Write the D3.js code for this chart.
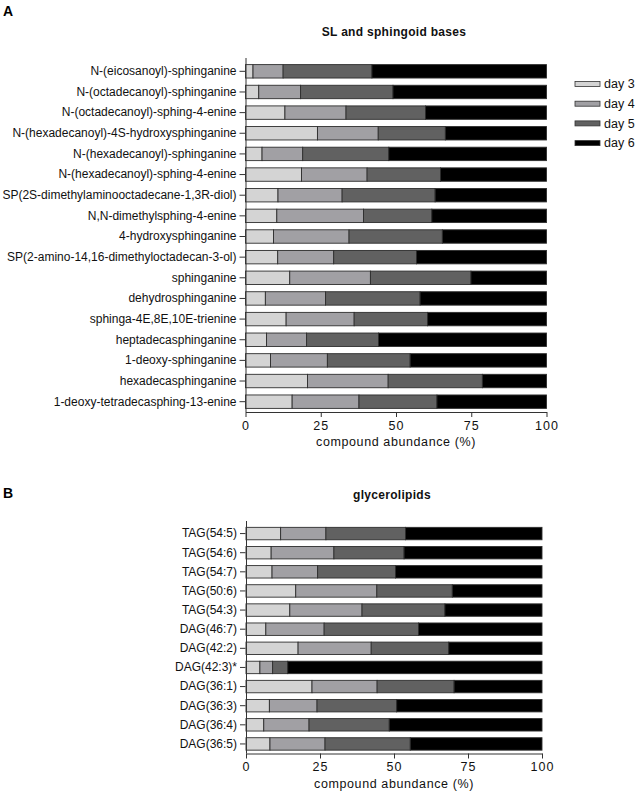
<!DOCTYPE html>
<html>
<head>
<meta charset="utf-8">
<script src="https://cdn.jsdelivr.net/npm/d3@7"></script>
<style>
html,body{margin:0;padding:0;background:#fff;}
svg{display:block;font-family:"Liberation Sans",Arial,sans-serif;}
</style>
</head>
<body>
<svg id="chart" width="638" height="794"></svg>
<script>
// ---------- data ----------
const seriesNames = ["day 3", "day 4", "day 5", "day 6"];
const seriesColors = ["#d4d4d4", "#a1a0a4", "#616161", "#000000"];
const xTicks = [0, 25, 50, 75, 100];

const sphCategories = [
  "N-(eicosanoyl)-sphinganine",
  "N-(octadecanoyl)-sphinganine",
  "N-(octadecanoyl)-sphing-4-enine",
  "N-(hexadecanoyl)-4S-hydroxysphinganine",
  "N-(hexadecanoyl)-sphinganine",
  "N-(hexadecanoyl)-sphing-4-enine",
  "SP(2S-dimethylaminooctadecane-1,3R-diol)",
  "N,N-dimethylsphing-4-enine",
  "4-hydroxysphinganine",
  "SP(2-amino-14,16-dimethyloctadecan-3-ol)",
  "sphinganine",
  "dehydrosphinganine",
  "sphinga-4E,8E,10E-trienine",
  "heptadecasphinganine",
  "1-deoxy-sphinganine",
  "hexadecasphinganine",
  "1-deoxy-tetradecasphing-13-enine"
];
const sphDay3 = [2.5, 4.4, 13.1, 23.9, 5.5, 18.6, 10.8, 10.4, 9.3, 10.7, 14.7, 6.6, 13.5, 7.0, 8.3, 20.6, 15.5];
const sphDay4 = [10.0, 13.9, 20.3, 20.2, 13.5, 21.8, 21.3, 28.8, 25.1, 18.6, 26.8, 20.0, 22.6, 13.3, 18.9, 26.8, 22.2];
const sphDay5 = [29.5, 30.7, 26.4, 22.3, 28.6, 24.4, 30.9, 22.7, 31.0, 27.5, 33.4, 31.4, 24.4, 23.9, 27.5, 31.3, 25.9];
const sphDay6 = [58.0, 51.0, 40.2, 33.6, 52.4, 35.2, 37.0, 38.1, 34.6, 43.2, 25.1, 42.0, 39.5, 55.8, 45.3, 21.3, 36.4];

const glyCategories = [
  "TAG(54:5)", "TAG(54:6)", "TAG(54:7)", "TAG(50:6)", "TAG(54:3)",
  "DAG(46:7)", "DAG(42:2)", "DAG(42:3)*", "DAG(36:1)", "DAG(36:3)",
  "DAG(36:4)", "DAG(36:5)"
];
const glyDay3 = [11.7, 8.5, 8.8, 16.8, 14.8, 6.7, 17.6, 4.7, 22.3, 7.9, 6.0, 8.1];
const glyDay4 = [15.3, 21.2, 15.4, 27.4, 24.4, 19.7, 24.7, 4.3, 22.0, 16.1, 15.3, 18.6];
const glyDay5 = [26.9, 23.7, 26.3, 25.5, 28.0, 31.9, 26.2, 5.1, 26.0, 26.9, 27.1, 28.8];
const glyDay6 = [46.1, 46.6, 49.5, 30.3, 32.8, 41.7, 31.5, 85.9, 29.7, 49.1, 51.6, 44.5];

// ---------- drawing ----------
const svg = d3.select("#chart");

function drawPanel(cfg) {
  const rows = cfg.categories.map((c, i) => ({
    cat: c,
    "day 3": cfg.series[0][i],
    "day 4": cfg.series[1][i],
    "day 5": cfg.series[2][i],
    "day 6": cfg.series[3][i]
  }));
  const stacked = d3.stack().keys(seriesNames)(rows);

  const x = d3.scaleLinear().domain([0, 100]).range([cfg.x0, cfg.x1]);
  const y = d3.scaleBand().domain(cfg.categories).range([cfg.y0, cfg.y1])
    .paddingInner(0.35).paddingOuter(0.175);

  const g = svg.append("g");

  g.selectAll("g.layer").data(stacked).join("g")
    .attr("class", "layer")
    .attr("fill", (d, i) => seriesColors[i])
    .selectAll("rect").data(d => d).join("rect")
    .attr("x", d => x(d[0]))
    .attr("y", d => y(d.data.cat))
    .attr("width", d => x(d[1]) - x(d[0]))
    .attr("height", y.bandwidth())
    .attr("stroke", "#2e2e2e")
    .attr("stroke-width", 0.9);

  // y axis
  const yAxis = d3.axisLeft(y).tickSize(6).tickPadding(3).tickSizeOuter(0);
  const ya = g.append("g").attr("transform", `translate(${cfg.x0},0)`).call(yAxis);
  ya.select(".domain").attr("d", `M0.5,${cfg.y0 - 3}V${cfg.y1}`).attr("stroke", "#333");
  ya.selectAll(".tick line").attr("stroke", "#333").attr("x1", -0.5);
  ya.selectAll(".tick text").attr("font-size", 12).attr("fill", "#111")
    .attr("font-family", "Liberation Sans, Arial, sans-serif");

  // x axis
  const xAxis = d3.axisBottom(x).tickValues(xTicks).tickSize(5).tickPadding(4).tickSizeOuter(0);
  const xa = g.append("g").attr("transform", `translate(0,${cfg.y1})`).call(xAxis);
  xa.select(".domain").attr("stroke", "#333");
  xa.selectAll(".tick line").attr("stroke", "#333");
  xa.selectAll(".tick text").attr("font-size", 12.5).attr("fill", "#111")
    .attr("letter-spacing", 1).attr("dy", "0.71em")
    .attr("font-family", "Liberation Sans, Arial, sans-serif");

  g.append("text")
    .attr("x", (cfg.x0 + cfg.x1) / 2)
    .attr("y", cfg.y1 + 34)
    .attr("text-anchor", "middle")
    .attr("font-size", 12.5)
    .attr("letter-spacing", 0.6)
    .attr("fill", "#111")
    .text("compound abundance (%)");

  // panel title
  g.append("text")
    .attr("x", (cfg.x0 + cfg.x1) / 2 - 2)
    .attr("y", cfg.titleY)
    .attr("text-anchor", "middle")
    .attr("font-size", 12)
    .attr("font-weight", "bold")
    .attr("letter-spacing", 0.3)
    .attr("fill", "#111")
    .text(cfg.title);

  // panel letter
  g.append("text")
    .attr("x", 3)
    .attr("y", cfg.letterY)
    .attr("font-size", 14)
    .attr("font-weight", "bold")
    .attr("fill", "#000")
    .text(cfg.letter);
}

drawPanel({
  categories: sphCategories,
  series: [sphDay3, sphDay4, sphDay5, sphDay6],
  x0: 245.5, x1: 546.5, y0: 61, y1: 412,
  title: "SL and sphingoid bases", titleY: 36, letter: "A", letterY: 16
});

drawPanel({
  categories: glyCategories,
  series: [glyDay3, glyDay4, glyDay5, glyDay6],
  x0: 246, x1: 542, y0: 524, y1: 753.5,
  title: "glycerolipids", titleY: 499, letter: "B", letterY: 498
});

// legend
const legend = svg.append("g").attr("transform", "translate(575,84)");
const li = legend.selectAll("g").data(seriesNames).join("g")
  .attr("transform", (d, i) => `translate(0,${i * 19.7})`);
li.append("rect")
  .attr("x", 0).attr("y", -2.5).attr("width", 25).attr("height", 5)
  .attr("fill", (d, i) => seriesColors[i])
  .attr("stroke", "#333").attr("stroke-width", 0.8);
li.append("text")
  .attr("x", 29).attr("y", 0).attr("dy", "0.35em")
  .attr("font-size", 12.5).attr("fill", "#111")
  .text(d => d);
</script>
</body>
</html>
